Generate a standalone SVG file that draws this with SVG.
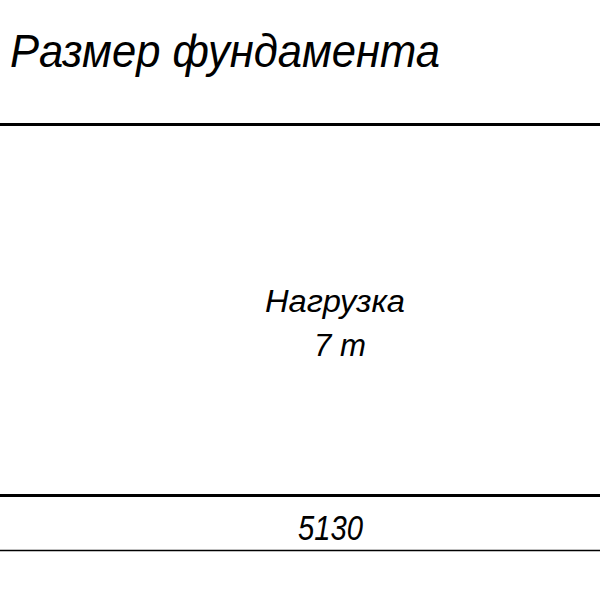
<svg xmlns="http://www.w3.org/2000/svg" width="600" height="600" viewBox="0 0 600 600">
<style>
.t{font-family:"Liberation Sans","DejaVu Sans",sans-serif;font-style:italic;font-weight:normal;fill:#000}
.thick{stroke:#000;stroke-width:3;fill:none}
.thin{stroke:#000;stroke-width:1.5;fill:none}
</style>
<rect width="600" height="600" fill="#fff"/>
<g id="title">
<text class="t" x="10" y="67" font-size="47" textLength="430" lengthAdjust="spacingAndGlyphs">Размер фундамента</text>
</g>
<g id="lines">
<line class="thick" x1="0" y1="124.5" x2="600" y2="124.5"/>
<line class="thick" x1="0" y1="495.5" x2="600" y2="495.5"/>
<line class="thin" x1="0" y1="550.5" x2="600" y2="550.5"/>
</g>
<g id="load">
<text class="t" x="265" y="312" font-size="31" textLength="140" lengthAdjust="spacingAndGlyphs">Нагрузка</text>
<text class="t" x="314" y="356" font-size="31" textLength="52" lengthAdjust="spacingAndGlyphs">7 т</text>
</g>
<g id="size">
<text class="t" x="298" y="540" font-size="35" textLength="65" lengthAdjust="spacingAndGlyphs">5130</text>
</g>
</svg>
